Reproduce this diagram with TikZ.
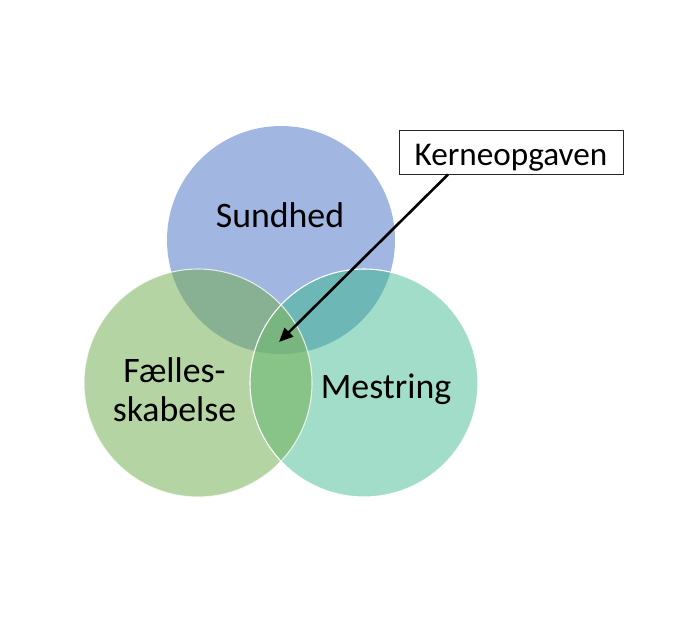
\documentclass[tikz,border=0pt]{standalone}
\usepackage{fontspec}
\setmainfont{Carlito}
\usetikzlibrary{arrows.meta}
\definecolor{cTop}{HTML}{A1B6E0}
\definecolor{cLeft}{HTML}{B5D4A3}
\definecolor{cRight}{HTML}{A1DDC8}
\definecolor{cTL}{HTML}{88B092}
\definecolor{cTR}{HTML}{6DB8B6}
\definecolor{cLR}{HTML}{88C487}
\definecolor{cTLR}{HTML}{79B67F}
\tikzset{
  lbl/.style={font=\fontsize{35.8}{39}\selectfont, text=black, align=center, inner sep=0pt},
  callout/.style={draw=black!85, line width=1pt, fill=white, minimum width=224pt, minimum height=44pt,
    inner sep=0pt, text height=26pt, text depth=0pt, font=\fontsize{33.2}{36}\selectfont},
  pointer/.style={line width=2.6pt, black, -{Triangle[length=14pt,width=12pt]}},
  rim/.style={draw=white, line width=1.1pt}
}
\begin{document}
\begin{tikzpicture}[x=1pt,y=-1pt]
\useasboundingbox (0,0) rectangle (690,625);
\def\R{114}
% base fills
\fill[cTop] (281,240) circle (\R);
\fill[cLeft] (198,383) circle (\R);
\fill[cRight] (364,383) circle (\R);
% pairwise overlaps
\begin{scope}
  \clip (281,240) circle (\R);
  \fill[cTL] (198,383) circle (\R);
  \fill[cTR] (364,383) circle (\R);
\end{scope}
\begin{scope}
  \clip (198,383) circle (\R);
  \fill[cLR] (364,383) circle (\R);
\end{scope}
\begin{scope}
  \clip (281,240) circle (\R);
  \clip (198,383) circle (\R);
  \fill[cTLR] (364,383) circle (\R);
\end{scope}
% white rims
\draw[rim, draw opacity=0.75] (198,383) circle (\R);
\draw[rim] (364,383) circle (\R);
% labels
\node[lbl] (sundhed) at (280,215) {Sundhed};
\node[lbl] (faelles) at (174.5,390) {Fælles-\\skabelse};
\node[lbl] (mestring) at (386,389) {Mestring};
% callout
\node[callout] (kerne) at (511,152) {Kerneopgaven};
\coordinate (kstart) at ([xshift=-63pt]kerne.south);
\coordinate (core) at (279,342);
\draw[pointer] (kstart) -- (core);
\end{tikzpicture}
\end{document}
